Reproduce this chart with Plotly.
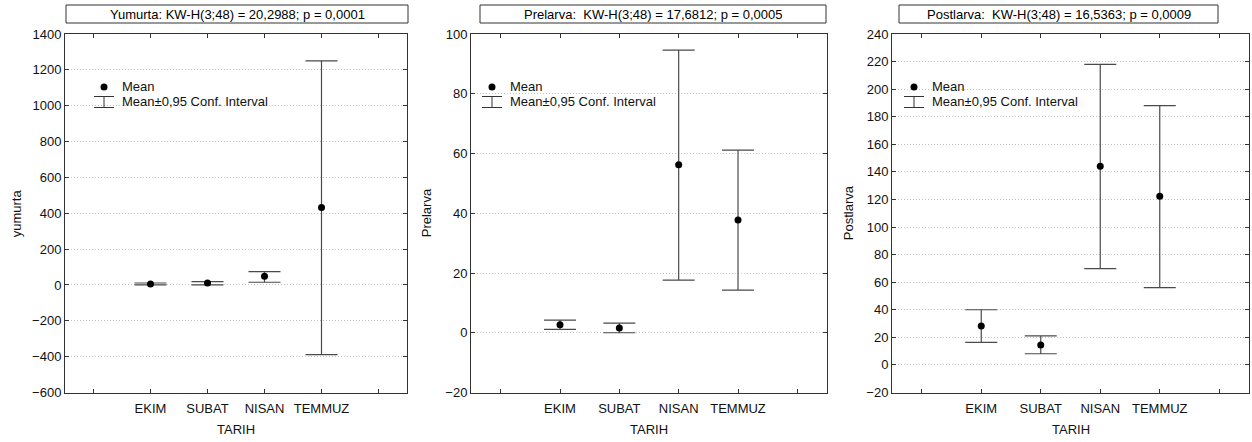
import plotly.graph_objects as go

W, H = 1252, 442

# ---------------- data ----------------
categories = ["EKIM", "SUBAT", "NISAN", "TEMMUZ"]

yumurta_mean = [5, 11, 48, 432]
yumurta_lower = [0, 0, 15, -389]
yumurta_upper = [11, 18, 74, 1250]

prelarva_mean = [2.7, 1.6, 56.2, 37.7]
prelarva_lower = [1.1, 0.0, 17.6, 14.3]
prelarva_upper = [4.2, 3.2, 94.6, 61.1]

postlarva_mean = [28.2, 14.4, 144.0, 122.3]
postlarva_lower = [16.3, 8.1, 69.8, 56.0]
postlarva_upper = [40.0, 21.0, 218.0, 188.0]

titles = [
    "Yumurta: KW-H(3;48) = 20,2988; p = 0,0001",
    "Prelarva:  KW-H(3;48) = 17,6812; p = 0,0005",
    "Postlarva:  KW-H(3;48) = 16,5363; p = 0,0009",
]
ytitles = ["yumurta", "Prelarva", "Postlarva"]
xtitle = "TARIH"
yranges = [(-600, 1400), (-20, 100), (-20, 240)]
ydticks = [200, 20, 20]

# ---------------- layout helpers ----------------
FONT = "Liberation Sans, Arial, sans-serif"
FS = 13
def px(x):
    return x / W
def py(y):
    return 1 - y / H

xdomains = [(65, 407), (471, 827), (892, 1249)]
ydom = [py(392.5), py(34)]
title_boxes = [(66, 408), (480, 826), (899, 1218)]
legend_dot_x = [104, 492, 914]

panels = [
    (yumurta_mean, yumurta_lower, yumurta_upper),
    (prelarva_mean, prelarva_lower, prelarva_upper),
    (postlarva_mean, postlarva_lower, postlarva_upper),
]

fig = go.Figure()
shapes = []
annotations = []
xpos = list(range(1, len(categories) + 1))

for i, (mean, lo, up) in enumerate(panels):
    sfx = "" if i == 0 else str(i + 1)
    fig.add_trace(go.Scatter(
        x=xpos, y=mean, mode="markers",
        xaxis="x" + sfx, yaxis="y" + sfx,
        marker=dict(color="black", size=7, symbol="circle"),
        error_y=dict(type="data", symmetric=False,
                     array=[u - m for u, m in zip(up, mean)],
                     arrayminus=[m - l for m, l in zip(mean, lo)],
                     color="#4a4a4a", thickness=1.2, width=16),
        showlegend=False, hoverinfo="skip",
    ))
    x0, x1 = xdomains[i]
    ax = dict(
        domain=[px(x0), px(x1)], range=[-0.5, len(categories) + 1.5],
        tickmode="array", tickvals=list(range(0, len(categories) + 2)),
        ticktext=[""] + categories + [""],
        ticks="inside", ticklen=4, tickcolor="#333", showline=True,
        linecolor="#333", linewidth=1, mirror="ticks", showgrid=False,
        zeroline=False, tickfont=dict(family=FONT, size=FS, color="#111"),
        ticklabelstandoff=4, anchor="y" + sfx, fixedrange=True,
        automargin=False,
    )
    r0, r1 = yranges[i]
    ay = dict(
        domain=ydom, range=[r0, r1], tickmode="linear", tick0=r0, dtick=ydticks[i],
        ticks="inside", ticklen=4, tickcolor="#333", showline=True,
        linecolor="#333", linewidth=1, mirror="ticks", showgrid=True,
        gridcolor="#c4c4c4", griddash="1px,2px", gridwidth=1, zeroline=False,
        tickfont=dict(family=FONT, size=FS, color="#111"), anchor="x" + sfx,
        fixedrange=True, layer="below traces", automargin=False,
    )
    fig.update_layout(**{"xaxis" + sfx: ax, "yaxis" + sfx: ay})

    # title box
    bx0, bx1 = title_boxes[i]
    shapes.append(dict(type="rect", xref="paper", yref="paper",
                       x0=px(bx0), x1=px(bx1), y0=py(23), y1=py(5),
                       line=dict(color="#333", width=1), fillcolor="white"))
    annotations.append(dict(text=titles[i], xref="paper", yref="paper",
                            x=px((bx0 + bx1) / 2), y=py(14), showarrow=False,
                            xanchor="center", yanchor="middle",
                            font=dict(family=FONT, size=FS, color="black")))
    # y title
    yt_x = [16, 426, 848][i]
    annotations.append(dict(text=ytitles[i], xref="paper", yref="paper",
                            x=px(yt_x), y=(ydom[0] + ydom[1]) / 2, textangle=-90,
                            showarrow=False, xanchor="center", yanchor="middle",
                            font=dict(family=FONT, size=FS, color="#111")))
    # x title
    annotations.append(dict(text=xtitle, xref="paper", yref="paper",
                            x=px((x0 + x1) / 2), y=py(429), showarrow=False,
                            xanchor="center", yanchor="middle",
                            font=dict(family=FONT, size=FS, color="#111")))
    # legend
    dx = legend_dot_x[i]
    shapes.append(dict(type="rect", xref="paper", yref="paper",
                       x0=px(dx - 14), x1=px(dx + 180), y0=py(114), y1=py(76),
                       line=dict(width=0), fillcolor="white", layer="between"))
    shapes.append(dict(type="circle", xref="paper", yref="paper",
                       x0=px(dx - 3.5), x1=px(dx + 3.5), y0=py(90.5), y1=py(83.5),
                       line=dict(width=0), fillcolor="black"))
    for yy in (96.5, 107.5):
        shapes.append(dict(type="line", xref="paper", yref="paper",
                           x0=px(dx - 10), x1=px(dx + 10), y0=py(yy), y1=py(yy),
                           line=dict(color="#333", width=1)))
    shapes.append(dict(type="line", xref="paper", yref="paper",
                       x0=px(dx), x1=px(dx), y0=py(96.5), y1=py(107.5),
                       line=dict(color="#333", width=1)))
    annotations.append(dict(text="Mean", xref="paper", yref="paper",
                            x=px(dx + 16), y=py(87), showarrow=False,
                            xanchor="left", yanchor="middle",
                            font=dict(family=FONT, size=FS, color="#111")))
    annotations.append(dict(text="Mean±0,95 Conf. Interval", xref="paper", yref="paper",
                            x=px(dx + 16), y=py(101.5), showarrow=False,
                            xanchor="left", yanchor="middle",
                            font=dict(family=FONT, size=FS, color="#111")))

fig.update_layout(
    width=W, height=H, margin=dict(l=0, r=0, t=0, b=0, autoexpand=False),
    paper_bgcolor="white", plot_bgcolor="white",
    shapes=shapes, annotations=annotations, showlegend=False,
    font=dict(family=FONT, size=FS),
)

fig.write_html("out.html", config={"displayModeBar": False})
